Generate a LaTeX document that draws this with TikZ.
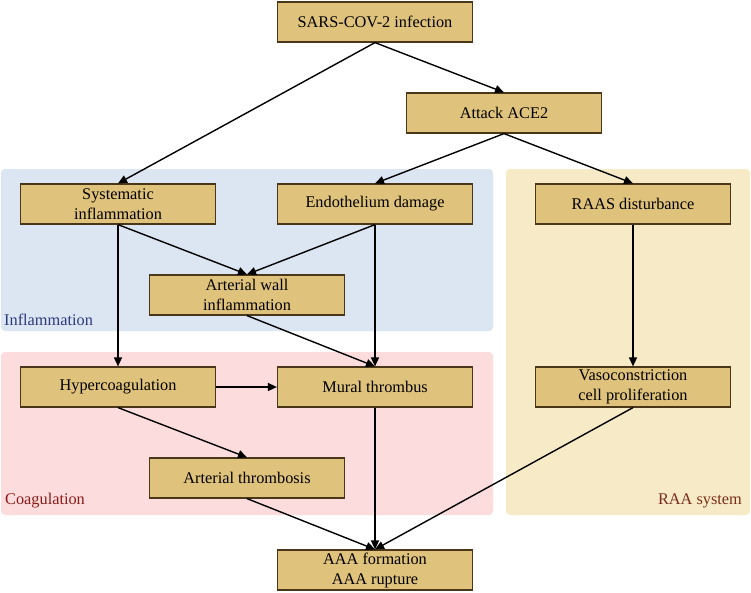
\documentclass[tikz,border=0pt]{standalone}
\usepackage{fontspec}
\setmainfont{Liberation Serif}
\usetikzlibrary{arrows.meta}
\definecolor{boxfill}{HTML}{DFC27B}
\definecolor{boxline}{HTML}{4A3618}
\definecolor{inflbg}{HTML}{DCE6F3}
\definecolor{coagbg}{HTML}{FCDCDC}
\definecolor{raabg}{HTML}{F6EBC6}
\definecolor{infltx}{HTML}{2B3A7A}
\definecolor{coagtx}{HTML}{8B1A1A}
\definecolor{raatx}{HTML}{7A2D1A}
\begin{document}
\begin{tikzpicture}[x=1pt,y=-1pt,
  stepbox/.style={draw=boxline,fill=boxfill,line width=1.2pt,minimum width=195pt,minimum height=40pt,
    inner sep=0pt,align=center,font=\fontsize{16.3}{20}\selectfont},
  region/.style={rounded corners=4pt,draw=none},
  regionlabel/.style={font=\fontsize{16.3}{18}\selectfont,inner sep=0pt},
  conn/.style={line width=1.4pt,-{Triangle[length=9pt,width=8pt]}}]
\useasboundingbox (0,0) rectangle (751,592);
\fill[white] (0,0) rectangle (751,592);
% regions
\path[region,fill=inflbg] (1,169) rectangle (493,331);
\path[region,fill=coagbg] (1,352) rectangle (493,515);
\path[region,fill=raabg] (506,169) rectangle (750,515);
\node[regionlabel,text=infltx,anchor=base west] (linfl) at (4,325) {Inflammation};
\node[regionlabel,text=coagtx,anchor=base west] (lcoag) at (5,504) {Coagulation};
\node[regionlabel,text=raatx,anchor=base east] (lraa) at (742,504) {RAA system};
% boxes
\node[stepbox] (sars) at (375,22) {SARS-COV-2 infection};
\node[stepbox] (ace) at (504,113) {Attack ACE2};
\node[stepbox] (sys) at (118,204) {Systematic\\inflammation};
\node[stepbox] (endo) at (375,204) {Endothelium damage};
\node[stepbox] (raas) at (633,204) {RAAS disturbance};
\node[stepbox] (wall) at (247,295) {Arterial wall\\inflammation};
\node[stepbox] (hyper) at (118,387) {Hypercoagulation};
\node[stepbox] (mural) at (375,387) {Mural thrombus};
\node[stepbox] (vaso) at (633,387) {Vasoconstriction\\cell proliferation};
\node[stepbox] (thromb) at (247,478) {Arterial thrombosis};
\node[stepbox] (aaa) at (375,570) {AAA formation\\AAA rupture};
% connectors
\draw[conn] (sars.south) -- (sys.north);
\draw[conn] (sars.south) -- (ace.north);
\draw[conn] (ace.south) -- (endo.north);
\draw[conn] (ace.south) -- (raas.north);
\draw[conn] (sys.south) -- (wall.north);
\draw[conn] (sys.south) -- (hyper.north);
\draw[conn] (endo.south) -- (wall.north);
\draw[conn] (endo.south) -- (mural.north);
\draw[conn] (wall.south) -- (mural.north);
\draw[conn] (hyper.east) -- (mural.west);
\draw[conn] (hyper.south) -- (thromb.north);
\draw[conn] (raas.south) -- (vaso.north);
\draw[conn] (mural.south) -- (aaa.north);
\draw[conn] (thromb.south) -- (aaa.north);
\draw[conn] (vaso.south) -- (aaa.north);
\end{tikzpicture}
\end{document}
